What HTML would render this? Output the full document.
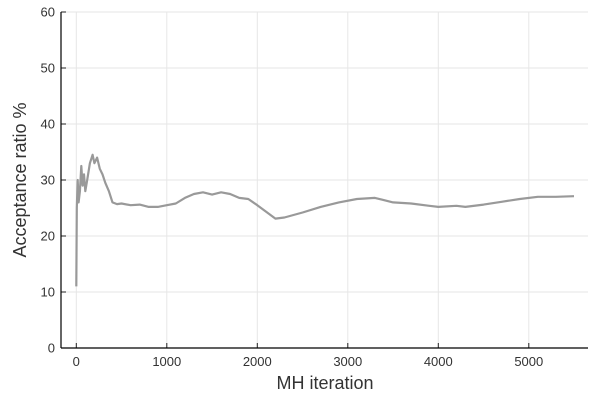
<!DOCTYPE html>
<html><head><meta charset="utf-8"><style>
html,body{margin:0;padding:0;background:#fff;}
svg text{font-family:"Liberation Sans","DejaVu Sans",sans-serif;fill:#333;}
</style></head><body>
<svg id="chart" width="600" height="400" xmlns="http://www.w3.org/2000/svg">
<g id="grid"></g>
<g id="axes"></g>
<path id="line" fill="none" stroke="#999" stroke-width="2.2" stroke-linejoin="round"></path>
<text x="325" y="389" font-size="18" text-anchor="middle">MH iteration</text>
<text transform="translate(26,180) rotate(-90)" font-size="18" text-anchor="middle">Acceptance ratio %</text>
</svg>
<script>
const iterations = [0,5,15,25,40,55,70,85,100,120,150,180,200,230,260,290,320,360,400,450,500,600,700,800,900,1000,1100,1200,1300,1400,1500,1600,1700,1800,1900,2000,2100,2200,2300,2500,2700,2900,3100,3300,3500,3700,3900,4000,4200,4300,4500,4700,4900,5100,5300,5500];
const ratios = [11,25,30,26,28,32.5,29,31,28,30,33,34.5,33,34,32,31,29.5,28,26,25.7,25.8,25.5,25.6,25.2,25.2,25.5,25.8,26.8,27.5,27.8,27.4,27.8,27.5,26.8,26.6,25.5,24.3,23.1,23.3,24.2,25.2,26.0,26.6,26.8,26.0,25.8,25.4,25.2,25.4,25.2,25.6,26.1,26.6,27.0,27.0,27.1];
const xTicks = [0,1000,2000,3000,4000,5000];
const yTicks = [0,10,20,30,40,50,60];
const NS = "http://www.w3.org/2000/svg";
const L=61,R=588,T=12,B=348;
function xs(v){return 76.3+v*0.0905;}
function ys(v){return B-v*5.6;}
const grid=document.getElementById('grid'), axes=document.getElementById('axes');
function mk(tag,attrs,parent){const e=document.createElementNS(NS,tag);for(const k in attrs)e.setAttribute(k,attrs[k]);parent.appendChild(e);return e;}
xTicks.forEach(v=>{
  const g=mk('line',{x1:xs(v),x2:xs(v),y1:T,y2:B,stroke:'#e6e6e6','stroke-width':1},grid);
  
  
  const t=mk('line',{x1:xs(v),x2:xs(v),y1:B,y2:B-5,stroke:'#222','stroke-width':1},axes);
  
  
  const tx=mk('text',{x:xs(v),y:B+18,'font-size':13,'text-anchor':'middle'},axes);
  tx.textContent=v;
  
  
});
yTicks.forEach(v=>{
  const g=mk('line',{x1:L,x2:R,y1:ys(v),y2:ys(v),stroke:'#e6e6e6','stroke-width':1},grid);
  
  
  const t=mk('line',{x1:L,x2:L+5,y1:ys(v),y2:ys(v),stroke:'#222','stroke-width':1},axes);
  
  
  const tx=mk('text',{x:L-6,y:ys(v)+4.5,'font-size':13,'text-anchor':'end'},axes);
  tx.textContent=v;
  
  
});
const ya=mk('line',{x1:L,x2:L,y1:T,y2:B,stroke:'#000','stroke-width':1.2},axes);


const xa=mk('line',{x1:L,x2:R,y1:B,y2:B,stroke:'#000','stroke-width':1.2},axes);


document.getElementById('line').setAttribute('d',iterations.map((v,i)=>(i?'L':'M')+xs(v).toFixed(1)+','+ys(ratios[i]).toFixed(1)).join(''));
</script>
</body></html>
